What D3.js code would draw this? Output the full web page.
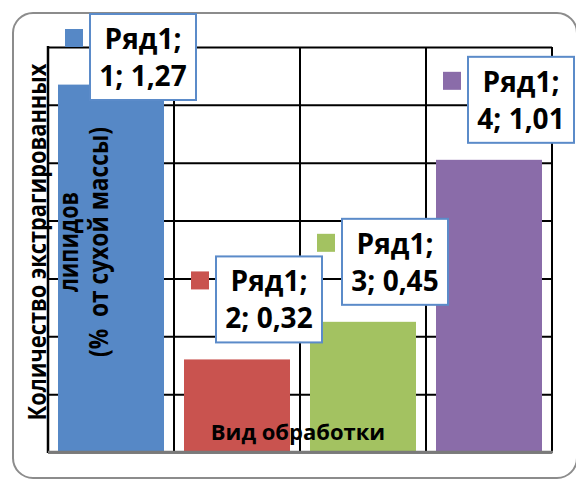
<!DOCTYPE html>
<html>
<head>
<meta charset="utf-8">
<script src="https://cdn.jsdelivr.net/npm/d3@7"></script>
<style>
  html, body { margin: 0; padding: 0; background: #fff; }
  svg { display: block; }
  text { font-family: "Open Sans", "Noto Sans", sans-serif; font-weight: 700; fill: #000; }
</style>
</head>
<body>
<svg id="chart" width="576" height="479"></svg>
<script>
// Lipid extraction by treatment type (one series, four treatments)
const categories = ["1", "2", "3", "4"];
const values = [1.27, 0.32, 0.45, 1.01];
const seriesName = "Ряд1";
const barColors = ["#5688c6", "#c9534f", "#a3c261", "#8a6ca9"];
const yTicks = [0, 0.2, 0.4, 0.6, 0.8, 1.0, 1.2, 1.4];
const xTitle = "Вид обработки";
const yTitleLines = ["Количество экстрагированных", "липидов", "(%  от сухой массы)"];

const W = 576, H = 479;
const plot = { left: 48, right: 552, top: 47, bottom: 452 };

const svg = d3.select("#chart");

// chart frame with rounded corners
svg.append("rect")
  .attr("x", 13).attr("y", 13)
  .attr("width", 564).attr("height", 465)
  .attr("rx", 20).attr("ry", 20)
  .attr("fill", "#fff")
  .attr("stroke", "#8c8c8c")
  .attr("stroke-width", 2);

const x = d3.scaleBand()
  .domain(categories)
  .range([plot.left, plot.right])
  .paddingInner(20 / 126)
  .paddingOuter(10 / 126);

const y = d3.scaleLinear()
  .domain([0, d3.max(yTicks)])
  .range([plot.bottom, plot.top]);

// horizontal gridlines from the value axis
svg.append("g")
  .attr("transform", `translate(${plot.left},0)`)
  .call(d3.axisLeft(y)
    .tickValues(yTicks)
    .tickSize(-(plot.right - plot.left))
    .tickFormat(""))
  .call(g => g.select(".domain").remove())
  .call(g => g.selectAll(".tick line").attr("stroke", "#000").attr("stroke-width", 2));

// vertical gridlines at category boundaries
const step = x.step();
const bounds = d3.range(categories.length + 1).map(i => plot.left + i * step);
svg.append("g").selectAll("line")
  .data(bounds.slice(1))
  .join("line")
  .attr("x1", d => d).attr("x2", d => d)
  .attr("y1", plot.top).attr("y2", plot.bottom)
  .attr("stroke", "#000").attr("stroke-width", 2);

// bars
svg.append("g").selectAll("rect")
  .data(values)
  .join("rect")
  .attr("x", (d, i) => x(categories[i]))
  .attr("y", d => y(d))
  .attr("width", x.bandwidth())
  .attr("height", d => y(0) - y(d))
  .attr("fill", (d, i) => barColors[i]);

// axis lines
svg.append("line")
  .attr("x1", plot.left).attr("x2", plot.left)
  .attr("y1", plot.top - 1).attr("y2", plot.bottom + 1)
  .attr("stroke", "#000").attr("stroke-width", 2.5);
svg.append("line")
  .attr("x1", plot.left).attr("x2", plot.right + 1)
  .attr("y1", plot.bottom).attr("y2", plot.bottom)
  .attr("stroke", "#7a7a7a").attr("stroke-width", 2.5);

// category axis title
svg.append("text")
  .attr("x", (plot.left + plot.right) / 2 - 2)
  .attr("y", 440)
  .attr("text-anchor", "middle")
  .attr("font-size", 22)
  .text(xTitle);

// value axis title, three rotated lines
const yTitleBase = [45.5, 78, 108];
const yTitleSize = [25, 26, 26];
const yTitleLen = [357, 100, 230];
const yTitleCenter = 242;
yTitleLines.forEach((t, i) => {
  svg.append("text")
    .attr("transform", `translate(${yTitleBase[i]},${yTitleCenter}) rotate(-90)`)
    .attr("text-anchor", "middle")
    .attr("font-size", yTitleSize[i])
    .attr("textLength", yTitleLen[i])
    .attr("lengthAdjust", "spacingAndGlyphs")
    .style("white-space", "pre")
    .text(t);
});

// data labels with legend key
const boxW = 106, boxH = 86;
const labels = svg.append("g").selectAll("g")
  .data(values)
  .join("g")
  .attr("transform", (d, i) => {
    const cx = x(categories[i]) + x.bandwidth() / 2 + 32;
    const top = Math.max(14, y(d) - 17 - boxH);
    return `translate(${cx - boxW / 2},${top})`;
  });

labels.append("rect")
  .attr("x", -25).attr("y", 15)
  .attr("width", 18).attr("height", 18)
  .attr("fill", (d, i) => barColors[i]);

labels.append("rect")
  .attr("width", boxW).attr("height", boxH)
  .attr("fill", "#fff")
  .attr("stroke", "#5b8bc9")
  .attr("stroke-width", 2);

labels.append("text")
  .attr("x", boxW / 2).attr("y", 35)
  .attr("text-anchor", "middle")
  .attr("font-size", 28)
  .text(seriesName + ";");

labels.append("text")
  .attr("x", boxW / 2).attr("y", 72)
  .attr("text-anchor", "middle")
  .attr("font-size", 28)
  .text((d, i) => `${categories[i]}; ${d3.format(".2f")(d).replace(".", ",")}`);
</script>
</body>
</html>
